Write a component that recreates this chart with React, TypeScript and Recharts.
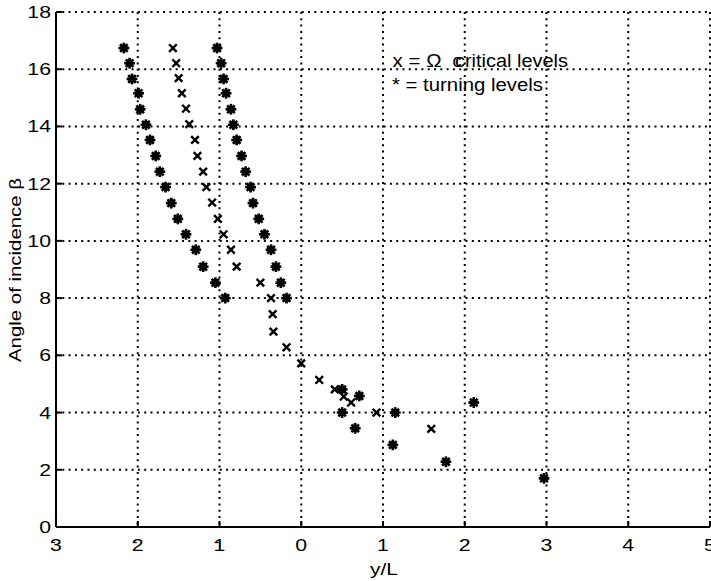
import { ScatterChart, Scatter, XAxis, YAxis, CartesianGrid } from "recharts";

// turning levels (*)
const turningX = [
  -2.17, -2.1, -2.07, -1.99, -1.97, -1.9, -1.85, -1.78, -1.73, -1.66, -1.59, -1.51, -1.41, -1.29, -1.2, -1.05, -0.93,
  -1.03, -0.98, -0.95, -0.92, -0.86, -0.83, -0.79, -0.73, -0.68, -0.62, -0.59, -0.52, -0.45, -0.37, -0.31, -0.25, -0.18,
  0.5, 0.71, 0.5, 0.66, 1.15, 1.12, 2.11, 1.77, 2.97,
];
const turningY = [
  16.74, 16.21, 15.66, 15.16, 14.6, 14.06, 13.53, 12.97, 12.42, 11.88, 11.32, 10.77, 10.23, 9.69, 9.1, 8.54, 8.0,
  16.74, 16.21, 15.66, 15.16, 14.6, 14.06, 13.53, 12.97, 12.42, 11.88, 11.32, 10.77, 10.23, 9.69, 9.1, 8.54, 8.0,
  4.81, 4.58, 4.0, 3.45, 4.0, 2.87, 4.35, 2.28, 1.7,
];

// critical levels (x)
const criticalX = [
  -1.57, -1.53, -1.5, -1.46, -1.41, -1.37, -1.3, -1.27, -1.2, -1.16, -1.09, -1.02, -0.95, -0.86, -0.79, -0.5, -0.37,
  -0.35, -0.34, -0.18, 0.0, 0.22, 0.41, 0.52, 0.61, 0.92, 1.59,
];
const criticalY = [
  16.74, 16.21, 15.69, 15.16, 14.62, 14.08, 13.53, 12.97, 12.42, 11.88, 11.34, 10.77, 10.23, 9.69, 9.1, 8.54, 8.0,
  7.44, 6.83, 6.28, 5.72, 5.14, 4.81, 4.56, 4.35, 4.0, 3.43,
];

const xTicks = [-3, -2, -1, 0, 1, 2, 3, 4, 5];
const yTicks = [0, 2, 4, 6, 8, 10, 12, 14, 16, 18];

const turning = turningX.map((x, i) => ({ x, y: turningY[i] }));
const critical = criticalX.map((x, i) => ({ x, y: criticalY[i] }));

const FONT = "'Liberation Sans', Arial, Helvetica, sans-serif";

function XTick({ x, y, payload }: any) {
  const v = payload.value;
  return (
    <g>
      <line x1={x} y1={y} x2={x} y2={y - 6} stroke="#000" strokeWidth={2} />
      <text transform={`translate(${x},${y + 24}) scale(1.25,1)`} textAnchor="middle" fontSize={17} fontFamily={FONT} fill="#000">
        {Math.abs(v)}
      </text>
      {v < 0 && (
        <text transform={`translate(${x - 3},${y + 20}) scale(1.1,1)`} textAnchor="middle" fontSize={15} fontFamily={FONT} fill="#000">
          -
        </text>
      )}
    </g>
  );
}

function YTick({ x, y, payload }: any) {
  return (
    <g>
      <line x1={x} y1={y} x2={x + 6} y2={y} stroke="#000" strokeWidth={2} />
      <text transform={`translate(${x - 5},${y + 6}) scale(1.25,1)`} textAnchor="end" fontSize={17} fontFamily={FONT} fill="#000">
        {payload.value}
      </text>
    </g>
  );
}

function Star({ cx, cy }: any) {
  const r = 5.4;
  const d = r * 0.707;
  return (
    <g>
      <circle cx={cx} cy={cy} r={3.8} fill="#000" />
      <line x1={cx - r} y1={cy} x2={cx + r} y2={cy} stroke="#000" strokeWidth={2.6} />
      <line x1={cx} y1={cy - r} x2={cx} y2={cy + r} stroke="#000" strokeWidth={2.6} />
      <line x1={cx - d} y1={cy - d} x2={cx + d} y2={cy + d} stroke="#000" strokeWidth={2.6} />
      <line x1={cx - d} y1={cy + d} x2={cx + d} y2={cy - d} stroke="#000" strokeWidth={2.6} />
    </g>
  );
}

function Cross({ cx, cy }: any) {
  const r = 3.8;
  return (
    <g>
      <line x1={cx - r} y1={cy - r} x2={cx + r} y2={cy + r} stroke="#000" strokeWidth={2.4} />
      <line x1={cx - r} y1={cy + r} x2={cx + r} y2={cy - r} stroke="#000" strokeWidth={2.4} />
    </g>
  );
}

export default function App() {
  return (
    <div style={{ position: "absolute", left: 0, top: 0, width: 711, height: 581, background: "#fff" }}>
      <ScatterChart width={711} height={581} margin={{ top: 12, right: 1, bottom: 0, left: 0 }}>
        <CartesianGrid stroke="#000" strokeWidth={2} strokeDasharray="2 4.3" />
        <XAxis
          type="number"
          dataKey="x"
          domain={[-3, 5]}
          ticks={xTicks}
          interval={0}
          height={54}
          tickSize={0}
          tickMargin={0}
          tickLine={false}
          axisLine={{ stroke: "#000", strokeWidth: 2 }}
          tick={<XTick />}
        />
        <YAxis
          type="number"
          dataKey="y"
          domain={[0, 18]}
          ticks={yTicks}
          interval={0}
          width={56}
          tickSize={0}
          tickMargin={0}
          tickLine={false}
          axisLine={{ stroke: "#000", strokeWidth: 2 }}
          tick={<YTick />}
        />
        <Scatter data={turning} shape={<Star />} isAnimationActive={false} />
        <Scatter data={critical} shape={<Cross />} isAnimationActive={false} />
      </ScatterChart>
      <svg width={711} height={581} style={{ position: "absolute", left: 0, top: 0, pointerEvents: "none" }}>
        <g fontFamily={FONT} fill="#000">
          <text x={21} y={270} transform="rotate(-90,21,270)" textAnchor="middle" fontSize={16} textLength={184} lengthAdjust="spacingAndGlyphs">
            Angle of incidence β
          </text>
          <text x={384} y={575} textAnchor="middle" fontSize={17} textLength={28} lengthAdjust="spacingAndGlyphs">
            y/L
          </text>
          <text x={392.5} y={66.5} fontSize={18} textLength={49} lengthAdjust="spacingAndGlyphs">
            x = Ω
          </text>
          <text x={452.5} y={66.5} fontSize={18}>
            c
          </text>
          <text x={455} y={66.5} fontSize={18} textLength={113} lengthAdjust="spacingAndGlyphs">
            critical levels
          </text>
          <text x={392} y={90.5} fontSize={18} textLength={151} lengthAdjust="spacingAndGlyphs">
            * = turning levels
          </text>
        </g>
      </svg>
    </div>
  );
}
